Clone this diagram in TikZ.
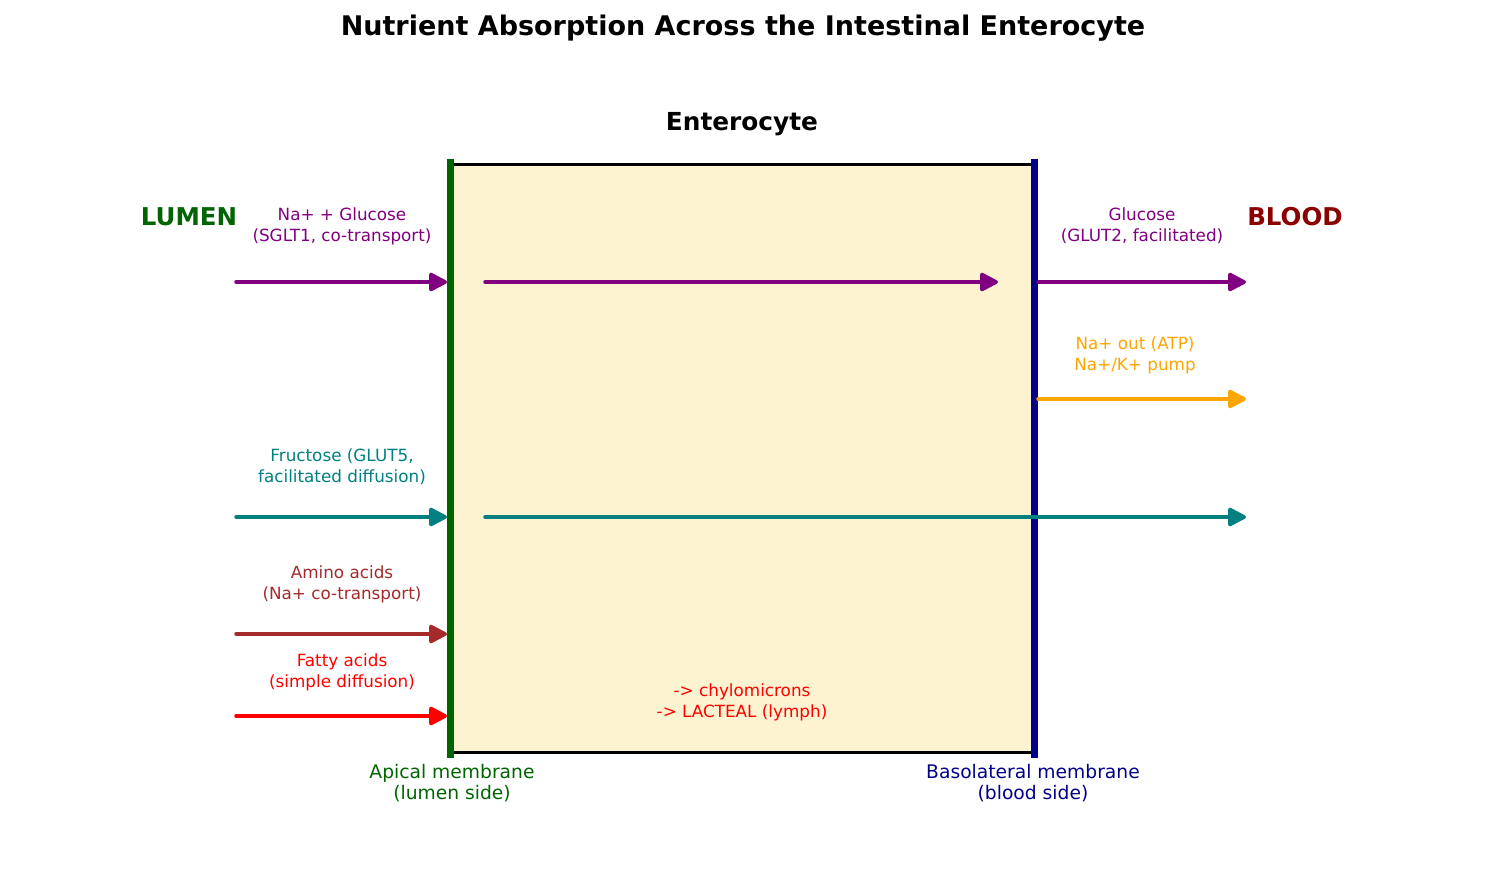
\documentclass[tikz,border=0pt]{standalone}
\usepackage{fontspec}
\setmainfont{DejaVu Sans}
\usetikzlibrary{arrows.meta}

\definecolor{roxo}{RGB}{128,0,128}
\definecolor{laranja}{RGB}{255,165,0}
\definecolor{petroleo}{RGB}{0,128,128}
\definecolor{marrom}{RGB}{165,42,42}
\definecolor{vermelho}{RGB}{255,0,0}
\definecolor{verdeescuro}{RGB}{0,100,0}
\definecolor{azulescuro}{RGB}{0,0,139}
\definecolor{vermescuro}{RGB}{139,0,0}
\definecolor{citoplasma}{RGB}{253,243,209}

\begin{document}
\begin{tikzpicture}[
    x=1pt, y=-1pt,
    fluxo/.style={line width=3.5pt, line cap=round, -{Triangle[round, length=20pt,width=20pt]}},
    rotulo/.style={align=center, inner sep=0pt, font=\fontsize{16.8}{21}\selectfont},
    membrana/.style={align=center, inner sep=0pt, font=\fontsize{18.7}{21.5}\selectfont},
    lado/.style={inner sep=0pt, font=\fontsize{24.5}{28}\selectfont\bfseries},
  ]
  \useasboundingbox (0,0) rectangle (1485,884);

  % Titulos
  \node[font=\fontsize{27}{31}\selectfont\bfseries] (titulo) at (743,28.5) {Nutrient Absorption Across the Intestinal Enterocyte};
  \node[font=\fontsize{24.8}{28}\selectfont\bfseries] (entero) at (742,124) {Enterocyte};
  \node[lado, text=verdeescuro] (lumen) at (189,217) {LUMEN};
  \node[lado, text=vermescuro] (sangue) at (1295,217) {BLOOD};

  % Celula e membranas
  \node[draw, line width=3pt, fill=citoplasma, inner sep=0pt,
    minimum width=581pt, minimum height=588pt] (celula) at (742.5,458) {};
  \draw[verdeescuro, line width=6.5pt, shorten <=-4pt, shorten >=-4pt] (celula.north west) -- (celula.south west);
  \draw[azulescuro, line width=6.5pt, shorten <=-4pt, shorten >=-4pt] (celula.north east) -- (celula.south east);

  % Pontos das setas
  \coordinate (gl0) at (236,282); \coordinate (gl1) at (447,282);
  \coordinate (gl2) at (485,282); \coordinate (gl3) at (998,282);
  \coordinate (gl4) at (1038,282); \coordinate (gl5) at (1246,282);
  \coordinate (na0) at (1038,399); \coordinate (na1) at (1246,399);
  \coordinate (fr0) at (236,517); \coordinate (fr1) at (447,517);
  \coordinate (fr2) at (485,517); \coordinate (fr3) at (1246,517);
  \coordinate (aa0) at (236,634); \coordinate (aa1) at (447,634);
  \coordinate (ag0) at (236,716); \coordinate (ag1) at (447,716);

  % Setas
  \draw[fluxo, roxo] (gl0) -- (gl1);
  \draw[fluxo, roxo] (gl2) -- (gl3);
  \draw[fluxo, roxo] (gl4) -- (gl5);
  \draw[fluxo, laranja] (na0) -- (na1);
  \draw[fluxo, petroleo] (fr0) -- (fr1);
  \draw[fluxo, petroleo] (fr2) -- (fr3);
  \draw[fluxo, marrom] (aa0) -- (aa1);
  \draw[fluxo, vermelho] (ag0) -- (ag1);

  % Rotulos
  \node[rotulo, text=roxo] (sglt) at (342,226) {Na+ + Glucose\\(SGLT1, co-transport)};
  \node[rotulo, text=roxo] (glut2) at (1142,226) {Glucose\\(GLUT2, facilitated)};
  \node[rotulo, text=laranja] (bomba) at (1135,355) {Na+ out (ATP)\\Na+/K+ pump};
  \node[rotulo, text=petroleo] (glut5) at (342,467) {Fructose (GLUT5,\\facilitated diffusion)};
  \node[rotulo, text=marrom] (amino) at (342,584) {Amino acids\\(Na+ co-transport)};
  \node[rotulo, text=vermelho] (graxo) at (342,672) {Fatty acids\\(simple diffusion)};
  \node[rotulo, text=vermelho] (quilo) at (742,702) {-> chylomicrons\\-> LACTEAL (lymph)};
  \node[membrana, text=verdeescuro] (apical) at (452,783) {Apical membrane\\(lumen side)};
  \node[membrana, text=azulescuro] (basal) at (1033,783) {Basolateral membrane\\(blood side)};
\end{tikzpicture}
\end{document}
